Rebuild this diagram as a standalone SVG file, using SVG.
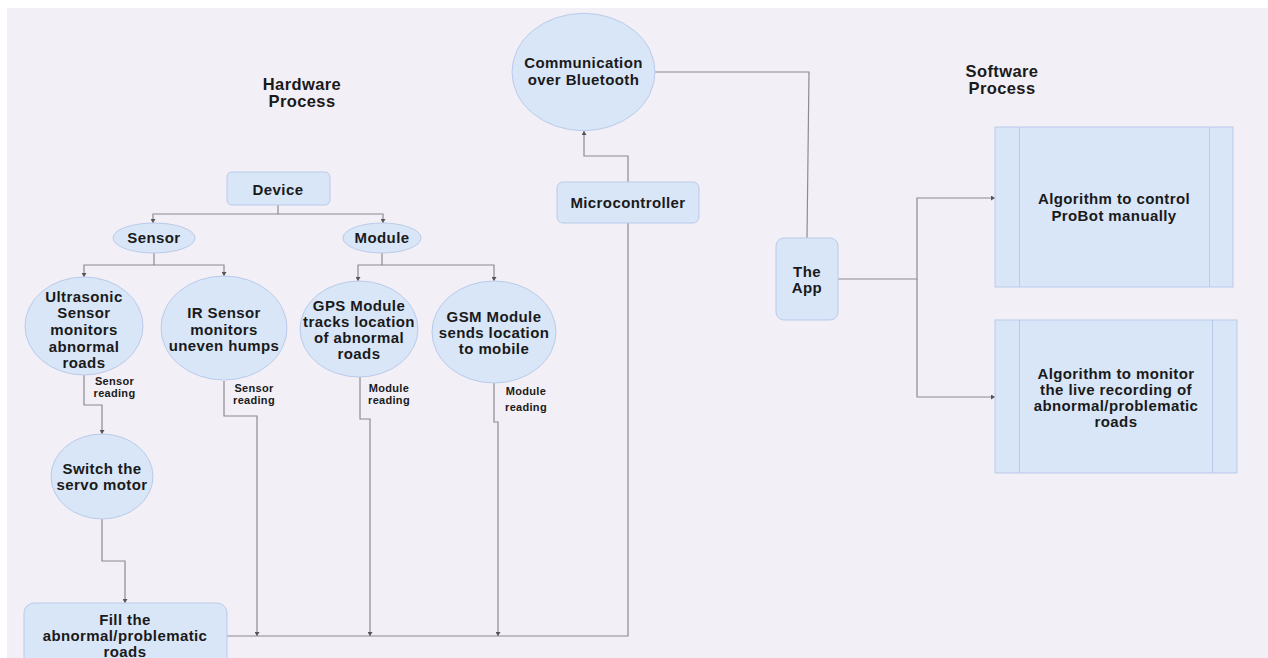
<svg xmlns="http://www.w3.org/2000/svg" width="1268" height="658" viewBox="0 0 1268 658">
<defs>
<marker id="arr" markerUnits="userSpaceOnUse" markerWidth="5" markerHeight="5" refX="4" refY="2.5" orient="auto">
<path d="M0,0 L4,2.5 L0,5 Z" fill="#555"/>
</marker>
<style>
.n{fill:#d9e6f8;stroke:#b9cbe9;stroke-width:1}
.c{fill:none;stroke:#8d8a90;stroke-width:1.2}
.t{font-family:"Liberation Sans",Arial,sans-serif;font-weight:bold;font-size:15px;fill:#1a1a1a;text-anchor:middle;letter-spacing:0.4px}
.s{font-family:"Liberation Sans",Arial,sans-serif;font-weight:bold;font-size:11px;fill:#1a1a1a;text-anchor:middle;letter-spacing:0.3px}
.h{font-family:"Liberation Sans",Arial,sans-serif;font-weight:bold;font-size:16.5px;fill:#1a1a1a;text-anchor:middle;letter-spacing:0.4px}
.i{fill:none;stroke:#b9cbe9;stroke-width:1}
</style>
</defs>
<rect x="0" y="0" width="1268" height="658" fill="#ffffff"/>
<rect x="7" y="8" width="1261" height="650" fill="#f3eff6"/>

<g id="headers">
<text class="h" x="302" y="90">Hardware</text>
<text class="h" x="302" y="107">Process</text>
<text class="h" x="1002" y="77">Software</text>
<text class="h" x="1002" y="94">Process</text>
</g>

<g id="connectors">
<path class="c" d="M278,205 V214 H153 V223" marker-end="url(#arr)"/>
<path class="c" d="M278,214 H383 V223" marker-end="url(#arr)"/>
<path class="c" d="M154,253 V265 H84 V277" marker-end="url(#arr)"/>
<path class="c" d="M154,265 H224 V276" marker-end="url(#arr)"/>
<path class="c" d="M382,253 V265 H358 V281" marker-end="url(#arr)"/>
<path class="c" d="M382,265 H494 V281" marker-end="url(#arr)"/>
<path class="c" d="M84,375 V405 H102 V434" marker-end="url(#arr)"/>
<path class="c" d="M102,519 V561 H125 V603" marker-end="url(#arr)"/>
<path class="c" d="M224,381 V416 H257 V636" marker-end="url(#arr)"/>
<path class="c" d="M360,377 V419 H370 V636" marker-end="url(#arr)"/>
<path class="c" d="M494,383 V422 H498 V636" marker-end="url(#arr)"/>
<path class="c" d="M227,636 H628 V223"/>
<path class="c" d="M628,182 V156 H584 V131" marker-end="url(#arr)"/>
<path class="c" d="M655,72 H809 L807,238"/>
<path class="c" d="M838,279 H917 V198 H995" marker-end="url(#arr)"/>
<path class="c" d="M917,279 V397 H995" marker-end="url(#arr)"/>
</g>

<g id="device">
<rect class="n" x="227" y="172" width="103" height="33" rx="5"/>
<text class="t" x="278" y="195">Device</text>
</g>
<g id="sensor">
<ellipse class="n" cx="154" cy="238" rx="41" ry="15"/>
<text class="t" x="154" y="243">Sensor</text>
</g>
<g id="module">
<ellipse class="n" cx="382" cy="238" rx="39" ry="15"/>
<text class="t" x="382" y="243">Module</text>
</g>
<g id="ultrasonic">
<ellipse class="n" cx="84" cy="326" rx="59" ry="49"/>
<text class="t" x="84" y="302">Ultrasonic</text>
<text class="t" x="84" y="318">Sensor</text>
<text class="t" x="84" y="335">monitors</text>
<text class="t" x="84" y="351.5">abnormal</text>
<text class="t" x="84" y="368">roads</text>
</g>
<g id="ir">
<ellipse class="n" cx="224" cy="328" rx="63" ry="52"/>
<text class="t" x="224" y="318">IR Sensor</text>
<text class="t" x="224" y="334.5">monitors</text>
<text class="t" x="224" y="350.5">uneven humps</text>
</g>
<g id="gps">
<ellipse class="n" cx="359" cy="329" rx="59" ry="48"/>
<text class="t" x="359" y="311">GPS Module</text>
<text class="t" x="359" y="327">tracks location</text>
<text class="t" x="359" y="343">of abnormal</text>
<text class="t" x="359" y="359">roads</text>
</g>
<g id="gsm">
<ellipse class="n" cx="494" cy="332" rx="62" ry="51"/>
<text class="t" x="494" y="322">GSM Module</text>
<text class="t" x="494" y="338">sends location</text>
<text class="t" x="494" y="353.5">to mobile</text>
</g>
<g id="servo">
<ellipse class="n" cx="102" cy="476.5" rx="51" ry="42.5"/>
<text class="t" x="102" y="474">Switch the</text>
<text class="t" x="102" y="490">servo motor</text>
</g>
<g id="fill">
<rect class="n" x="24" y="603" width="203" height="70" rx="10"/>
<text class="t" x="125" y="625">Fill the</text>
<text class="t" x="125" y="641">abnormal/problematic</text>
<text class="t" x="125" y="657">roads</text>
</g>
<g id="microcontroller">
<rect class="n" x="557" y="182" width="142" height="41" rx="6"/>
<text class="t" x="628" y="208">Microcontroller</text>
</g>
<g id="bluetooth">
<ellipse class="n" cx="583.5" cy="72" rx="71.5" ry="58.7"/>
<text class="t" x="583.5" y="68">Communication</text>
<text class="t" x="583.5" y="85">over Bluetooth</text>
</g>
<g id="app">
<rect class="n" x="776" y="238" width="62" height="82" rx="8"/>
<text class="t" x="807" y="277">The</text>
<text class="t" x="807" y="293">App</text>
</g>
<g id="algo-control">
<rect class="n" x="995" y="127" width="238" height="160"/>
<line class="i" x1="1019.5" y1="127" x2="1019.5" y2="287"/>
<line class="i" x1="1209.5" y1="127" x2="1209.5" y2="287"/>
<text class="t" x="1114" y="204">Algorithm to control</text>
<text class="t" x="1114" y="221">ProBot manually</text>
</g>
<g id="algo-monitor">
<rect class="n" x="995" y="320" width="242" height="153"/>
<line class="i" x1="1019.5" y1="320" x2="1019.5" y2="473"/>
<line class="i" x1="1212.5" y1="320" x2="1212.5" y2="473"/>
<text class="t" x="1116" y="378.5">Algorithm to monitor</text>
<text class="t" x="1116" y="394.5">the live recording of</text>
<text class="t" x="1116" y="410.5">abnormal/problematic</text>
<text class="t" x="1116" y="427">roads</text>
</g>

<g id="labels">
<text class="s" x="114.5" y="384.5">Sensor</text>
<text class="s" x="114.5" y="396.5">reading</text>
<text class="s" x="254" y="392">Sensor</text>
<text class="s" x="254" y="404">reading</text>
<text class="s" x="389" y="392">Module</text>
<text class="s" x="389" y="404">reading</text>
<text class="s" x="526" y="395">Module</text>
<text class="s" x="526" y="411">reading</text>
</g>
</svg>
